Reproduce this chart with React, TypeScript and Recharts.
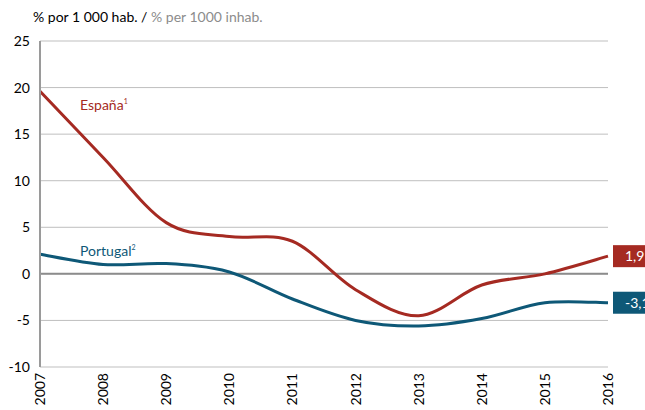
import { LineChart, Line, XAxis, YAxis, CartesianGrid, ReferenceLine } from 'recharts';

const years = ['2007', '2008', '2009', '2010', '2011', '2012', '2013', '2014', '2015', '2016'];
const espana = [19.6, 12.5, 5.5, 4.0, 3.5, -1.7, -4.5, -1.2, 0.0, 1.9];
const portugal = [2.1, 1.0, 1.1, 0.2, -2.7, -5.0, -5.6, -4.8, -3.1, -3.1];
const endLabels = { espana: '1,9', portugal: '-3,1' };
const yTicks = [-10, -5, 0, 5, 10, 15, 20, 25];

const RED = '#a52a22';
const TEAL = '#0e5877';
const FONT = 'Lato, "Liberation Sans", sans-serif';

const chartData = years.map((year, i) => ({
  year,
  espana: espana[i],
  portugal: portugal[i],
}));

// Excel-like smoothed line (Catmull-Rom through every point)
function smoothCurve(context: any) {
  let pts: number[][] = [];
  return {
    areaStart() {},
    areaEnd() {},
    lineStart() {
      pts = [];
    },
    point(x: number, y: number) {
      pts.push([+x, +y]);
    },
    lineEnd() {
      if (!pts.length) return;
      context.moveTo(pts[0][0], pts[0][1]);
      for (let i = 0; i < pts.length - 1; i++) {
        const p0 = pts[i - 1] || pts[i];
        const p1 = pts[i];
        const p2 = pts[i + 1];
        const p3 = pts[i + 2] || pts[i + 1];
        context.bezierCurveTo(
          p1[0] + (p2[0] - p0[0]) / 6,
          p1[1] + (p2[1] - p0[1]) / 6,
          p2[0] - (p3[0] - p1[0]) / 6,
          p2[1] - (p3[1] - p1[1]) / 6,
          p2[0],
          p2[1]
        );
      }
    },
  };
}

function makeEndLabel(text: string, color: string) {
  return (props: any) => {
    const { x, y, index } = props;
    if (index !== years.length - 1) return null;
    return (
      <g>
        <rect x={x + 5} y={y - 11} width={40} height={22} fill={color} />
        <text x={x + 17} y={y} dy="0.36em" fill="#fff" fontSize={14} fontFamily={FONT}>
          {text}
        </text>
      </g>
    );
  };
}

function YearTick(props: any) {
  const { x, y, payload } = props;
  return (
    <text
      x={x}
      y={y}
      transform={`rotate(-90, ${x}, ${y})`}
      textAnchor="end"
      dy="0.36em"
      fill="#000"
      fontSize={14}
      fontFamily={FONT}
    >
      {payload.value}
    </text>
  );
}

export default function App() {
  return (
    <div style={{ position: 'absolute', left: 0, top: 0, width: 645, height: 410, background: '#fff', fontFamily: FONT }}>
      <div style={{ position: 'absolute', left: 33, top: 8, fontSize: 14, color: '#000', whiteSpace: 'nowrap' }}>
        % por 1 000 hab. / <span style={{ color: '#8c8c8c' }}>% per 1000 inhab.</span>
      </div>
      <LineChart
        width={645}
        height={410}
        data={chartData}
        margin={{ top: 41, right: 37, left: 0, bottom: 0 }}
      >
        <CartesianGrid vertical={false} stroke="#bfbfbf" strokeWidth={1} />
        <XAxis
          dataKey="year"
          axisLine={false}
          tickLine={false}
          tickSize={0}
          tickMargin={6}
          height={43}
          interval={0}
          tick={<YearTick />}
        />
        <YAxis
          domain={[-10, 25]}
          ticks={yTicks}
          width={40}
          tickLine={false}
          tickSize={0}
          tickMargin={10}
          axisLine={{ stroke: '#9a9a9a', strokeWidth: 2 }}
          tick={{ fontSize: 14, fill: '#000', fontFamily: FONT }}
        />
        <ReferenceLine y={0} stroke="#8c8c8c" strokeWidth={2} />
        <Line
          type={smoothCurve as any}
          dataKey="espana"
          stroke={RED}
          strokeWidth={3}
          dot={false}
          isAnimationActive={false}
          label={makeEndLabel(endLabels.espana, RED)}
        />
        <Line
          type={smoothCurve as any}
          dataKey="portugal"
          stroke={TEAL}
          strokeWidth={3}
          dot={false}
          isAnimationActive={false}
          label={makeEndLabel(endLabels.portugal, TEAL)}
        />
      </LineChart>
      <div style={{ position: 'absolute', left: 80, top: 96, fontSize: 14, color: RED, whiteSpace: 'nowrap' }}>
        España<sup style={{ fontSize: 7 }}>1</sup>
      </div>
      <div style={{ position: 'absolute', left: 80, top: 242, fontSize: 14, color: TEAL, whiteSpace: 'nowrap' }}>
        Portugal<sup style={{ fontSize: 7 }}>2</sup>
      </div>
    </div>
  );
}
